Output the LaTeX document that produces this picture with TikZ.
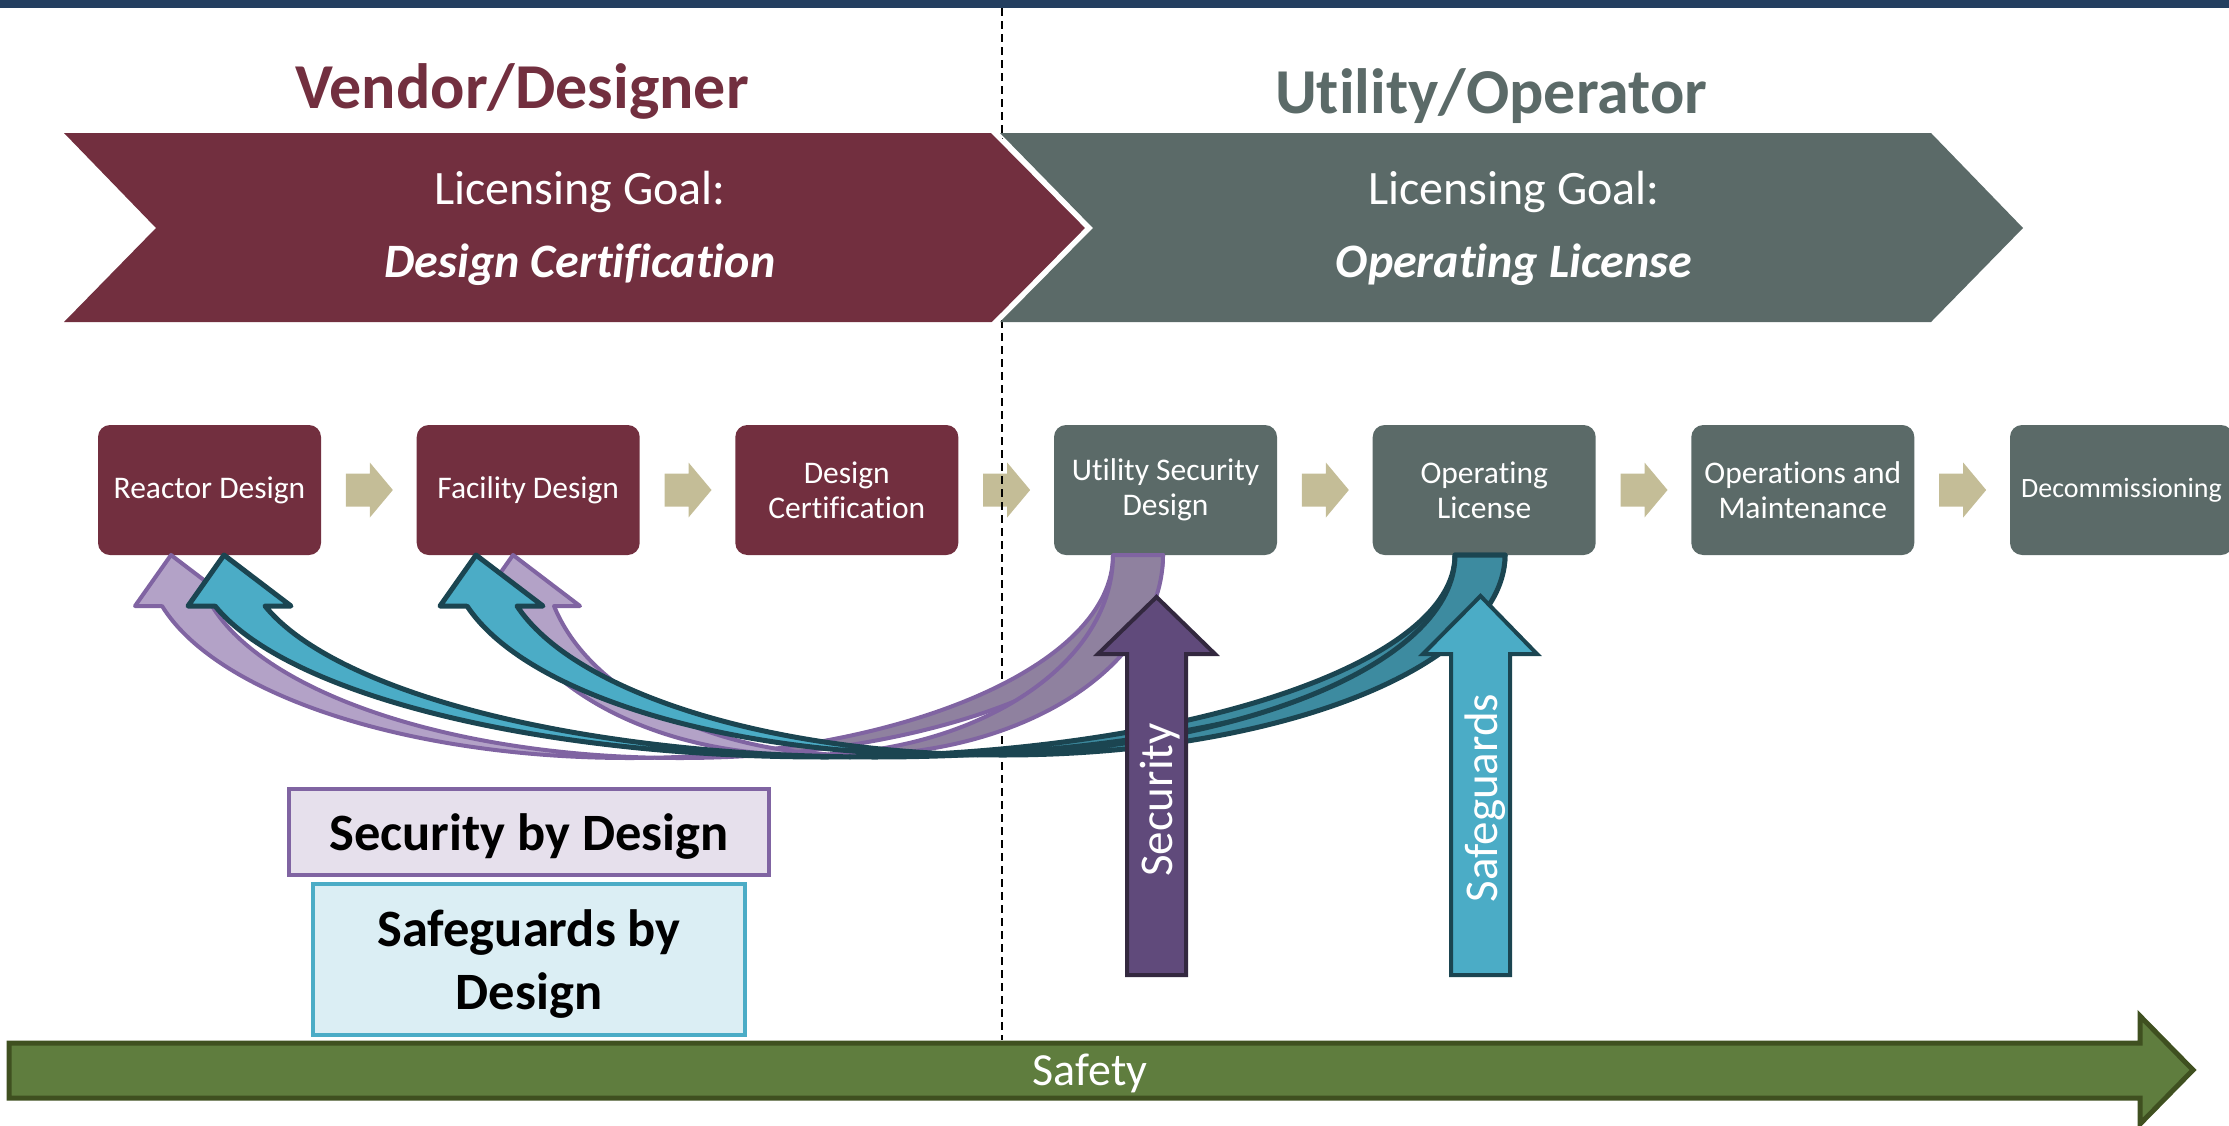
\documentclass[tikz,border=0pt]{standalone}
\usepackage{fontspec}
\setmainfont[Ligatures={NoCommon,NoContextual}]{Carlito}
\usetikzlibrary{calc}
\definecolor{cTop}{HTML}{243F60}
\definecolor{cMaroon}{HTML}{722F3F}
\definecolor{cGray}{HTML}{5B6A68}
\definecolor{cTan}{HTML}{C4BD97}
\definecolor{cPurL}{HTML}{B3A2C7}
\definecolor{cPurD}{HTML}{8F819F}
\definecolor{cPurB}{HTML}{8064A2}
\definecolor{cCyaL}{HTML}{4BACC6}
\definecolor{cCyaD}{HTML}{3D8BA0}
\definecolor{cCyaB}{HTML}{1B4551}
\definecolor{cSec}{HTML}{604A7B}
\definecolor{cSecB}{HTML}{33283F}
\definecolor{cSbd}{HTML}{E6E0EC}
\definecolor{cSgd}{HTML}{DBEEF4}
\definecolor{cGreen}{HTML}{5F7D3E}
\definecolor{cGreenB}{HTML}{3F5020}
% curved band: #1 tail-left x, #2 head notch-left x, #3 band offset, #4 y radius,
% #5 light fill, #6 dark fill, #7 outline style
\newcommand\cband[7]{%
  \pgfmathsetmacro\cbK{sqrt(1-(51/#4)^2)}%
  \pgfmathsetmacro\cbRX{(#1-#2)/(1+\cbK)}%
  \pgfmathsetmacro\cbCX{#1-\cbRX}%
  \pgfmathsetmacro\cbTH{180-asin(51/#4)}%
  \pgfmathsetmacro\cbTC{acos(#3/(2*\cbRX))}%
  \pgfmathsetmacro\cbTCC{180-\cbTC}%
  \pgfmathsetmacro\cbXX{\cbCX+#3/2}%
  \pgfmathsetmacro\cbYY{555+#4*sin(\cbTC)}%
  \filldraw[fill=#6, #7] (\cbXX,\cbYY) arc[start angle=\cbTC, end angle=0, x radius=\cbRX, y radius=#4]
     -- ++(#3,0) arc[start angle=0, end angle=\cbTCC, x radius=\cbRX, y radius=#4] -- cycle;
  \filldraw[fill=#5, #7] (#2,606) -- ++(-27,0) -- ++(36,-51) -- ++(67,51) -- ++({#3-76},0)
     arc[start angle=\cbTH, end angle=\cbTCC, x radius=\cbRX, y radius=#4] -- (\cbXX,\cbYY)
     arc[start angle=\cbTC, end angle=\cbTH, x radius=\cbRX, y radius=#4] -- cycle;
}
\begin{document}
\begin{tikzpicture}[x=1pt,y=-1pt,
  pbox/.style={rounded corners=12pt, minimum width=223pt, minimum height=130pt, inner sep=0pt,
    text=white, align=center, font=\fontsize{31.5}{35}\selectfont},
  hdr/.style={anchor=base, inner sep=0pt, font=\fontsize{64}{70}\selectfont\bfseries},
  goal/.style={anchor=base, inner sep=0pt, text=white, font=\fontsize{48}{56}\selectfont},
  goalb/.style={anchor=base, inner sep=0pt, text=white, font=\fontsize{48}{56}\selectfont\bfseries\itshape},
  vtxt/.style={anchor=base, rotate=90, inner sep=0pt, text=white, font=\fontsize{47}{56}\selectfont},
  tanarrow/.style={fill=cTan},
  dashline/.style={black, line width=1.5pt, dash pattern=on 8pt off 5pt},
  purline/.style={draw=cPurB, line width=4pt, line join=round},
  cyaline/.style={draw=cCyaB, line width=5pt, line join=round},
  bigarrow/.style={line width=4pt, line join=miter},
  bydbox/.style={line width=4pt, inner sep=0pt},
  bydtxt/.style={inner sep=0pt, text=black, font=\fontsize{52.5}{63}\selectfont\bfseries, align=center}
]
\useasboundingbox (0,0) rectangle (2229,1125);
\fill[cTop] (0,0) rectangle (2229,8);

% process boxes
\node[pbox, fill=cMaroon] (b1) at (209.5,490) {Reactor Design};
\node[pbox, fill=cMaroon] (b2) at (528.2,490) {Facility Design};
\node[pbox, fill=cMaroon] (b3) at (846.8,490) {Design\\Certification};
\node[pbox, fill=cGray] (b4) at (1165.5,490) {Utility Security\\Design};
\node[pbox, fill=cGray] (b5) at (1484.2,490) {Operating\\License};
\node[pbox, fill=cGray] (b6) at (1802.8,490) {Operations and\\Maintenance};
\node[pbox, fill=cGray, font=\fontsize{28}{33}\selectfont] (b7) at (2121.5,490) {Decommissioning};

% small arrows between boxes
\foreach \a/\b in {b1/b2,b2/b3,b3/b4,b4/b5,b5/b6,b6/b7}{
  \coordinate (m) at ($(\a.east)!0.5!(\b.west)$);
  \fill[tanarrow] (m) ++(-23,-16.5) -- ++(24,0) -- ++(0,-11) -- ++(23,27.5) -- ++(-23,27.5)
     -- ++(0,-11) -- ++(-24,0) -- cycle;
}

% divider
\coordinate (dtop) at (1002,8);
\coordinate (dbot) at (1002,1040);
\draw[dashline] (dtop) -- (dbot);

% chevrons
\fill[cGray] (1000,133) -- (1931,133) -- (2023,228) -- (1931,322) -- (1000,322) -- (1093,228) -- cycle;
\fill[cMaroon] (64,133) -- (992,133) -- (1088,228) -- (992,322) -- (64,322) -- (156,228) -- cycle;
\draw[white, line width=4pt, line join=miter] (992,131) -- (1088,228) -- (992,325);

\node[hdr, text=cMaroon] (vd) at (522,108) {Vendor/Designer};
\node[hdr, text=cGray] (uo) at (1491,113) {Utility/Operator};
\node[goal] (g1) at (580,204) {Licensing Goal:};
\node[goalb] (g1b) at (580,277) {Design Certification};
\node[goal] (g2) at (1514,204) {Licensing Goal:};
\node[goalb] (g2b) at (1514,277) {Operating License};

% curved feedback arrows
\cband{1113}{162}{50}{203}{cPurL}{cPurD}{purline}
\cband{1113}{504}{50}{200}{cPurL}{cPurD}{purline}
\cband{1455}{215}{50}{202}{cCyaL}{cCyaD}{cyaline}
\cband{1455}{467}{50}{200}{cCyaL}{cCyaD}{cyaline}

% vertical arrows
\filldraw[bigarrow, fill=cSec, draw=cSecB] (1127,975) -- (1127,654) -- (1098,654) -- (1156.5,597)
   -- (1215,654) -- (1186,654) -- (1186,975) -- cycle;
\node[vtxt] (sec) at (1172,800) {Security};
\filldraw[bigarrow, fill=cCyaL, draw=cCyaB] (1451,975) -- (1451,654) -- (1423,654) -- (1480.5,596)
   -- (1537,654) -- (1510,654) -- (1510,975) -- cycle;
\node[vtxt] (sg) at (1497,798) {Safeguards};

% by-design boxes
\node[bydbox, draw=cPurB, fill=cSbd, minimum width=480pt, minimum height=86pt] (sbd) at (529,832) {};
\node[bydtxt, anchor=base] (sbdt) at (529,850) {Security by Design};
\node[bydbox, draw=cCyaL, fill=cSgd, minimum width=432pt, minimum height=151pt] (sgd) at (529,959.5) {};
\node[bydtxt] (sgdt) at ($(sgd.center)+(0,4.5)$) {Safeguards by\\Design};

% safety arrow
\filldraw[line width=5pt, fill=cGreen, draw=cGreenB] (9,1043) -- (2140,1043) -- (2140,1016) -- (2193,1070)
   -- (2140,1124) -- (2140,1098) -- (9,1098) -- cycle;
\node[anchor=base, inner sep=0pt, text=white, font=\fontsize{46}{52}\selectfont] (saf) at (1090,1085) {Safety};
\end{tikzpicture}
\end{document}
